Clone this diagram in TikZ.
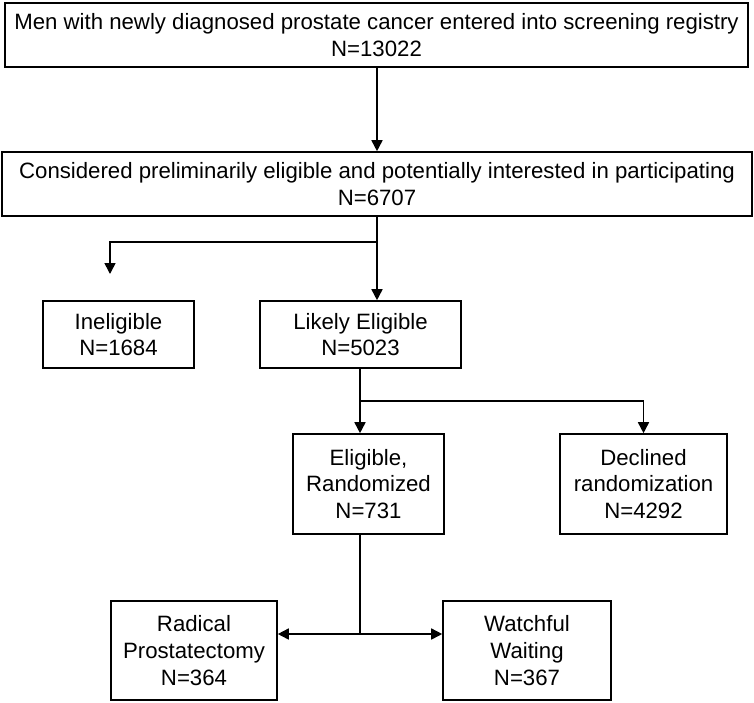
\documentclass[tikz,border=0pt]{standalone}
\usepackage{fontspec}
\setmainfont{Liberation Sans}
\usetikzlibrary{arrows.meta}
\begin{document}
\begin{tikzpicture}[x=1pt,y=-1pt,
  box/.style={draw=black,line width=1.6pt,fill=white,align=center,inner sep=0pt,
    font=\fontsize{22.2}{26.8}\selectfont},
  conn/.style={line width=1.6pt,draw=black},
  arr/.style={conn,-{Triangle[length=11pt,width=11pt]}}]
\useasboundingbox (0,0) rectangle (754,702);
\fill[white] (0,0) rectangle (754,702);
% boxes
\node[box,minimum width=743pt,minimum height=64pt] (reg) at (376.5,35) {Men with newly diagnosed prostate cancer entered into screening registry\\N=13022};
\node[box,minimum width=750pt,minimum height=64pt] (pre) at (377,184) {Considered preliminarily eligible and potentially interested in participating\\N=6707};
\node[box,minimum width=151pt,minimum height=67pt] (inel) at (118.5,334.5) {Ineligible\\N=1684};
\node[box,minimum width=201pt,minimum height=67pt] (like) at (360.5,334.5) {Likely Eligible\\N=5023};
\node[box,minimum width=151pt,minimum height=100pt] (elig) at (368.5,484) {Eligible,\\Randomized\\N=731};
\node[box,minimum width=167pt,minimum height=100pt] (decl) at (643.5,484) {Declined\\randomization\\N=4292};
\node[box,minimum width=166pt,minimum height=99pt] (rad) at (194,650.5) {Radical\\Prostatectomy\\N=364};
\node[box,minimum width=168pt,minimum height=99pt] (watch) at (527,650.5) {Watchful\\Waiting\\N=367};
% helper coordinates
\coordinate (b1) at (377,242);
\coordinate (b1l) at (110,242);
\coordinate (inelend) at (110,274);
\coordinate (b2) at (360,401);
\coordinate (b2r) at (643.5,401);
\coordinate (b3) at (360,634);
% connectors
\draw[arr] (reg.south -| 377,0) -- (pre.north -| 377,0);
\draw[arr] (pre.south -| 377,0) -- (like.north -| 377,0);
\draw[arr] (b1) -- (b1l) -- (inelend);
\draw[arr] (like.south -| b2) -- (elig.north -| b2);
\draw[arr] (b2) -- (b2r) -- (decl.north);
\draw[conn] (elig.south -| b3) -- (b3);
\draw[arr] (b3) -- (rad.east |- b3);
\draw[arr] (b3) -- (watch.west |- b3);
\end{tikzpicture}
\end{document}
